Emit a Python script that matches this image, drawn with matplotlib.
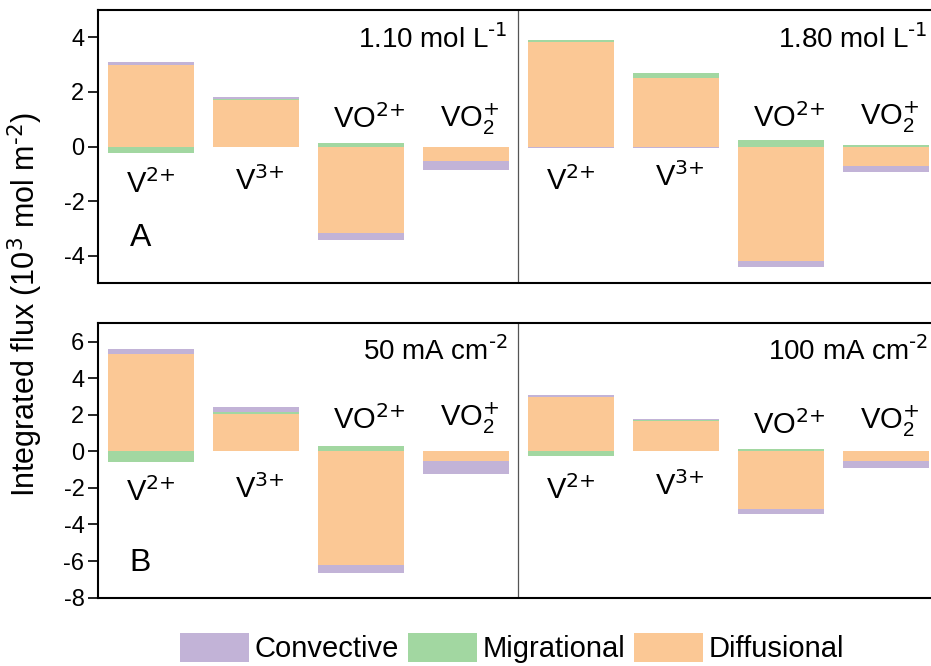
import matplotlib
matplotlib.use('Agg')
import matplotlib.pyplot as plt
import numpy as np
from matplotlib.patches import Patch

plt.rcParams['font.family'] = ['Liberation Sans', 'DejaVu Sans']
plt.rcParams['mathtext.default'] = 'regular'
plt.rcParams['axes.unicode_minus'] = False

# ions and flux components
ions = ['V$^{\\text{2+}}$', 'V$^{\\text{3+}}$', 'VO$^{\\text{2+}}$', 'VO$_2^{\\text{+}}$']
components = ['Convective', 'Migrational', 'Diffusional']

# Panel A: electrolyte concentration
conc_labels = ['1.10 mol L$^{\\text{-1}}$', '1.80 mol L$^{\\text{-1}}$']
diff_110 = [3.00, 1.70, -3.17, -0.52]
migr_110 = [-0.24, 0.05, 0.12, 0.00]
conv_110 = [0.08, 0.06, -0.25, -0.35]
diff_180 = [3.82, 2.50, -4.18, -0.70]
migr_180 = [0.07, 0.21, 0.25, 0.04]
conv_180 = [-0.06, -0.06, -0.22, -0.24]

# Panel B: current density
cur_labels = ['50 mA cm$^{\\text{-2}}$', '100 mA cm$^{\\text{-2}}$']
diff_50 = [5.33, 2.02, -6.20, -0.53]
migr_50 = [-0.60, 0.15, 0.27, 0.00]
conv_50 = [0.26, 0.28, -0.47, -0.70]
diff_100 = [2.98, 1.67, -3.14, -0.53]
migr_100 = [-0.27, 0.02, 0.13, 0.00]
conv_100 = [0.08, 0.09, -0.29, -0.36]

# colours
c_conv = '#c2b3d7'
c_migr = '#a2d7a1'
c_diff = '#fbc895'

# where the ion names sit (data y) in each panel
lab_y_A = [-1.71, -1.59, 0.67, 0.73, -1.59, -1.46, 0.73, 0.79]
lab_y_B = [-2.73, -2.55, 1.21, 1.39, -2.58, -2.40, 0.93, 1.21]
lab_dx = [0.0, 0.04, 0.08, 0.04]


def draw_panel(ax, groups, cond_labels, lab_y, ylim, yticks, letter, letter_y, cond_y):
    x = np.arange(8)
    diff = np.concatenate([g[0] for g in groups])
    migr = np.concatenate([g[1] for g in groups])
    conv = np.concatenate([g[2] for g in groups])
    pos = np.zeros(8)
    neg = np.zeros(8)
    for vals, col in [(diff, c_diff), (migr, c_migr), (conv, c_conv)]:
        bottom = np.where(vals >= 0, pos, neg)
        ax.bar(x, vals, bottom=bottom, width=0.82, color=col, linewidth=0)
        pos = pos + np.clip(vals, 0, None)
        neg = neg + np.clip(vals, None, 0)

    ax.axvline(3.5, color='#555555', lw=0.9)
    ax.set_xlim(-0.5, 7.5)
    ax.set_ylim(*ylim)
    ax.set_yticks(yticks)
    ax.set_xticks([])
    ax.tick_params(axis='y', direction='out', length=7, width=1.2, pad=3, labelsize=17)
    for s in ax.spines.values():
        s.set_linewidth(1.5)

    for i in range(8):
        ax.text(x[i] + lab_dx[i % 4], lab_y[i], ions[i % 4], ha='center', va='baseline', fontsize=21)
    for k, lab in enumerate(cond_labels):
        ax.text(3.4 + 4 * k, cond_y, lab, ha='right', va='baseline', fontsize=20)
    ax.text(-0.1, letter_y, letter, ha='center', va='center', fontsize=23)


fig = plt.figure(figsize=(9.31, 6.66), dpi=100)
ax_a = fig.add_axes([0.1056, 0.575, 0.9023, 0.41])
ax_b = fig.add_axes([0.1056, 0.1026, 0.9023, 0.412])

draw_panel(ax_a, [(diff_110, migr_110, conv_110), (diff_180, migr_180, conv_180)],
           conc_labels, lab_y_A, (-5, 5), [-4, -2, 0, 2, 4], 'A', -3.35, 3.6)
draw_panel(ax_b, [(diff_50, migr_50, conv_50), (diff_100, migr_100, conv_100)],
           cur_labels, lab_y_B, (-8, 7), [-8, -6, -4, -2, 0, 2, 4, 6], 'B', -6.08, 5.0)

fig.text(0.027, 0.543, 'Integrated flux (10$^{\\text{3}}$ mol m$^{\\text{-2}}$)', rotation=90,
         ha='center', va='center', fontsize=22)

handles = [Patch(facecolor=c, edgecolor='none') for c in [c_conv, c_migr, c_diff]]
fig.legend(handles, components, loc='center', bbox_to_anchor=(0.55, 0.027), ncol=3,
           frameon=False, fontsize=21, handlelength=2.37, handleheight=1.15,
           handletextpad=0.2, columnspacing=0.3, borderpad=0, borderaxespad=0)

fig.savefig('out.png', dpi=100)
